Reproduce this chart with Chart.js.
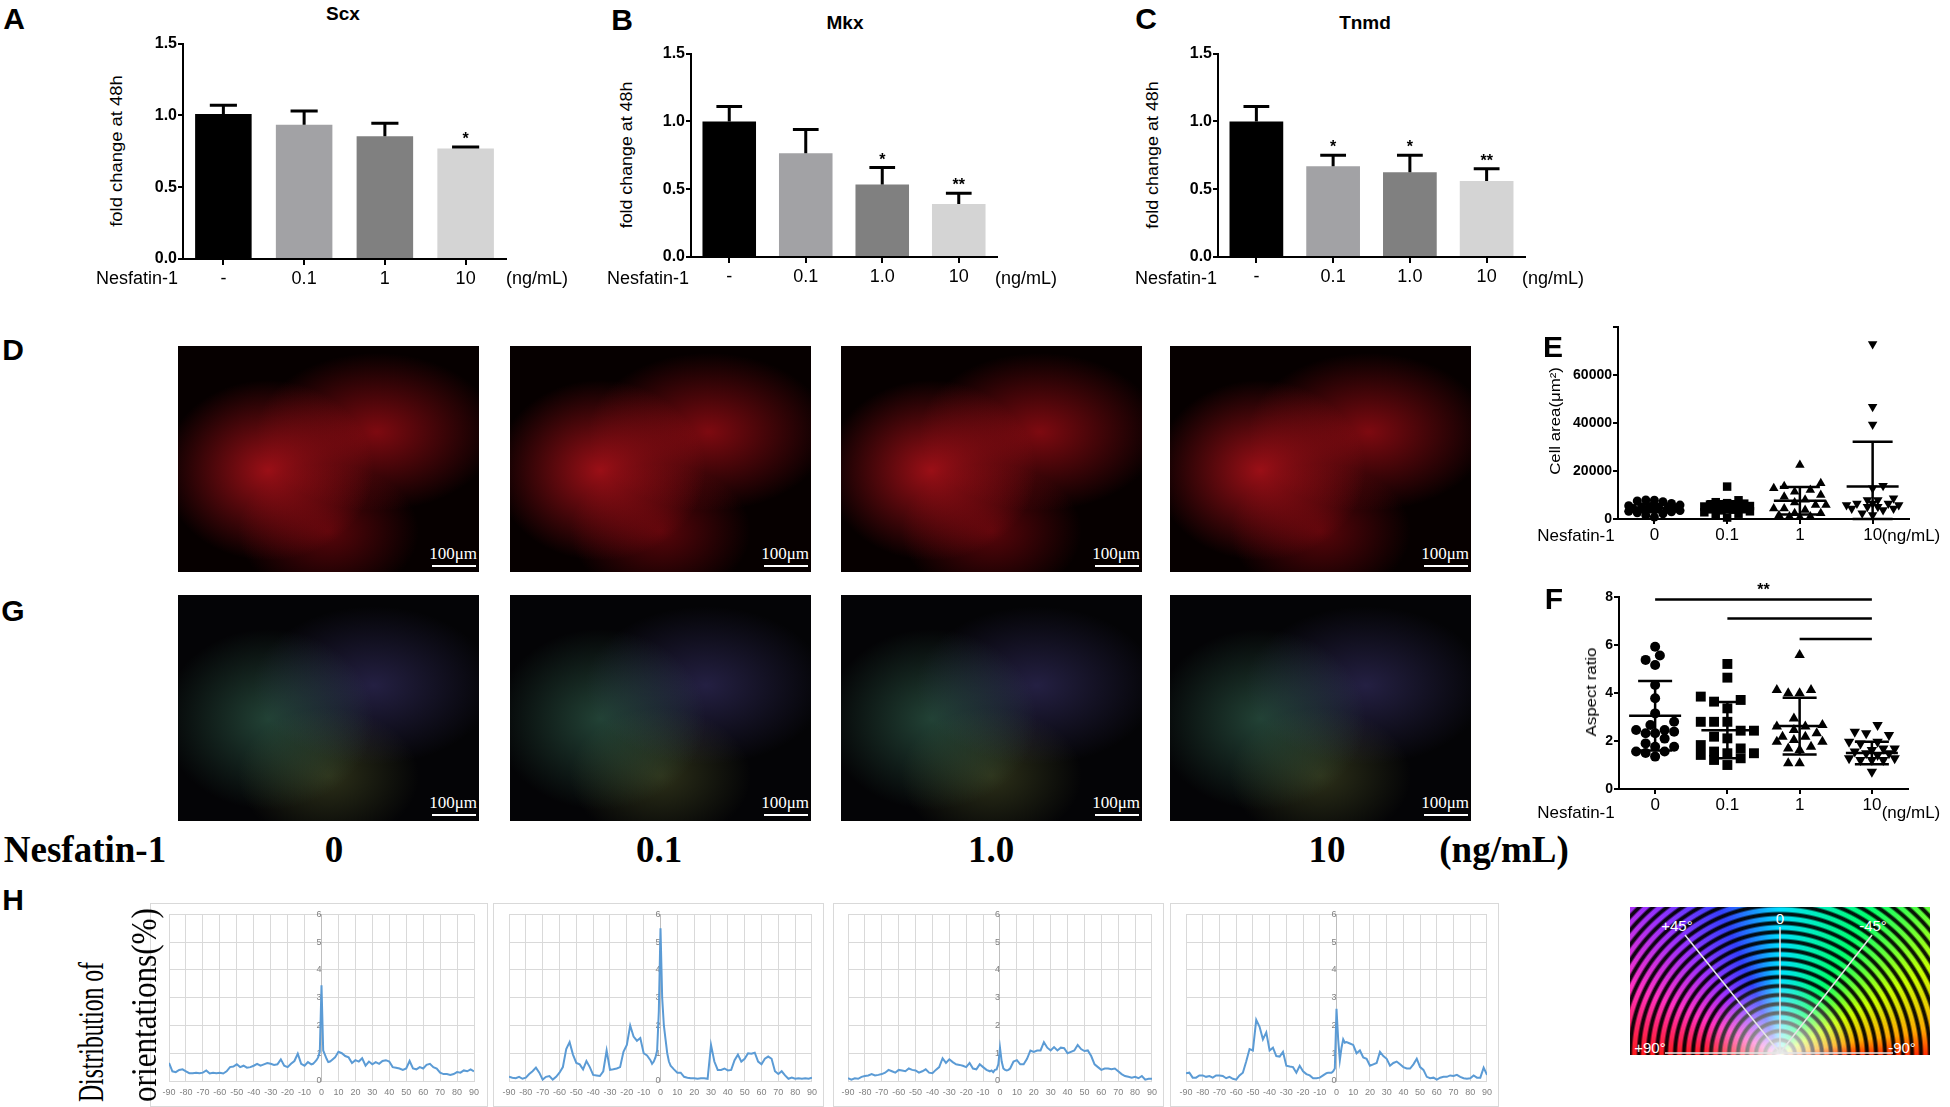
<!DOCTYPE html>
<html>
<head>
<meta charset="utf-8">
<title>Nesfatin-1 tenocyte figure</title>
<script src="https://cdn.jsdelivr.net/npm/chart.js@4.4.1/dist/chart.umd.min.js"></script>
<style>
  html, body { margin: 0; padding: 0; background: #fff; }
  body { position: relative; width: 1950px; height: 1107px; overflow: hidden; font-family: "Liberation Sans", Arial, sans-serif; }
  .box { position: absolute; }
  .t { position: absolute; white-space: nowrap; line-height: 1; color: #000; transform: translate(-50%, -50%); }
  .frame { position: absolute; border: 1px solid #d9d9d9; box-sizing: border-box; }
  .cell { position: absolute; overflow: hidden; }
  .red { background:
      radial-gradient(ellipse 35% 40% at 30% 55%, rgba(205,20,30,.75), rgba(205,20,30,0) 100%),
      radial-gradient(ellipse 40% 35% at 66% 38%, rgba(190,15,25,.65), rgba(190,15,25,0) 100%),
      radial-gradient(ellipse 30% 30% at 50% 82%, rgba(170,10,20,.5), rgba(170,10,20,0) 100%),
      #060000; }
  .tri { background:
      radial-gradient(ellipse 35% 40% at 30% 55%, rgba(70,140,110,.45), rgba(70,140,110,0) 100%),
      radial-gradient(ellipse 40% 35% at 65% 40%, rgba(80,70,150,.42), rgba(80,70,150,0) 100%),
      radial-gradient(ellipse 30% 30% at 50% 80%, rgba(120,130,60,.35), rgba(120,130,60,0) 100%),
      #040406; }
  .sb { position: absolute; color: #fff; font-family: "Liberation Serif", serif; font-size: 17px; line-height: 1; }
  .sbl { position: absolute; height: 2px; background: #fff; }
  .wheel { position: absolute; left: 1630px; top: 907px; width: 300px; height: 148px;
    background:
      radial-gradient(circle at 50% 100%, rgba(255,255,255,.95) 0, rgba(255,255,255,.55) 30px, rgba(255,255,255,0) 75px),
      repeating-radial-gradient(circle at 50% 100%, rgba(0,0,0,0) 0 3px, rgba(0,0,0,.92) 5px 7px, rgba(0,0,0,0) 9px),
      conic-gradient(from 270deg at 50% 100%, #ff1a1a 0deg, #ff30c0 25deg, #9a30ff 48deg, #3340ff 68deg, #00e0ff 90deg, #00ff70 122deg, #c8ff00 150deg, #ffa800 170deg, #ff2a00 180deg, #ff1a1a 360deg); }
</style>
</head>
<body>
<script>
// ---------- data ----------
const barColors = ['#000000', '#a2a2a5', '#808080', '#d4d4d4'];
const doseA = ['-', '0.1', '1', '10'];
const doseBC = ['-', '0.1', '1.0', '10'];

const scxMean = [1.01, 0.935, 0.855, 0.77];
const scxErr = [0.06, 0.095, 0.09, 0.01];
const scxSig = ['', '', '', '*'];

const mkxMean = [1.0, 0.765, 0.535, 0.39];
const mkxErr = [0.11, 0.175, 0.125, 0.08];
const mkxSig = ['', '', '*', '**'];

const tnmdMean = [1.0, 0.67, 0.625, 0.56];
const tnmdErr = [0.11, 0.08, 0.125, 0.09];
const tnmdSig = ['', '*', '*', '**'];

const doseEF = ['0', '0.1', '1', '10'];

// cell area (um^2) per cell
const area0 = [7900, 7500, 7800, 7200, 6500, 5800, 5500, 5200, 5000, 4800, 4500, 4400, 4200, 4000, 3800, 3500, 3200, 3000, 2600, 2200, 1500, 800];
const area01 = [13500, 7800, 7000, 6600, 6400, 6000, 5800, 5600, 5400, 5200, 5000, 4800, 4600, 4400, 4200, 3900, 3600, 3200, 2800, 2200, 1600, 600];
const area1 = [22500, 14900, 13600, 12800, 12100, 11400, 10000, 9300, 8000, 6900, 5800, 5800, 4400, 4400, 3750, 2400, 2400, 1600, 1000, 1000, 700];
const area10 = [72900, 46800, 39400, 13900, 12800, 8600, 7900, 7900, 6500, 6500, 6500, 5800, 5800, 5100, 5100, 4400, 4400, 3750, 2400, 1700];
const areaMean = [4500, 5100, 7600, 13500];
const areaSd = [1700, 2300, 5700, 18700];

// aspect ratio per cell
const ratio0 = [5.93, 5.56, 5.38, 5.17, 4.33, 3.78, 3.15, 2.8, 2.67, 2.46, 2.46, 2.39, 2.32, 2.32, 2.1, 1.9, 1.76, 1.76, 1.56, 1.56, 1.5, 1.35];
const ratio01 = [5.21, 4.64, 3.85, 3.71, 3.64, 3.36, 2.8, 2.8, 2.8, 2.43, 2.43, 2.18, 2.11, 1.83, 1.69, 1.56, 1.49, 1.49, 1.42, 1.28, 1.21, 1.0];
const ratio1 = [5.58, 4.13, 4.13, 3.99, 3.99, 2.94, 2.67, 2.6, 2.6, 2.46, 2.32, 2.18, 2.18, 2.04, 1.97, 1.97, 1.76, 1.69, 1.63, 1.07, 1.07];
const ratio10 = [2.67, 2.39, 2.32, 2.25, 1.97, 1.97, 1.9, 1.69, 1.69, 1.63, 1.56, 1.49, 1.49, 1.42, 1.28, 1.28, 1.21, 1.21, 1.21, 0.72];
const ratioMean = [3.05, 2.45, 2.62, 1.5];
const ratioSd = [1.45, 1.17, 1.18, 0.47];
const ratioBrackets = [[1, 4, 7.9], [2, 4, 7.1], [3, 4, 6.25]]; // from group, to group, level

// orientation distribution (%), degrees
const orientX = [-90, -88, -86, -84, -82, -80, -78, -76, -74, -72, -70, -68, -66, -64, -62, -60, -58, -56, -54, -52, -50, -48, -46, -44, -42, -40, -38, -36, -34, -32, -30, -28, -26, -24, -22, -20, -18, -16, -14, -12, -10, -8, -6,
  -5, -4, -3, -2, -1, 0, 1, 2, 3, 4, 5,
  6, 8, 10, 12, 14, 16, 18, 20, 22, 24, 26, 28, 30, 32, 34, 36, 38, 40, 42, 44, 46, 48, 50, 52, 54, 56, 58, 60, 62, 64, 66, 68, 70, 72, 74, 76, 78, 80, 82, 84, 86, 88, 90];
const orient0 = [0.65, 0.35, 0.32, 0.4, 0.42, 0.35, 0.28, 0.28, 0.3, 0.28, 0.3, 0.38, 0.27, 0.3, 0.28, 0.3, 0.27, 0.35, 0.5, 0.52, 0.6, 0.5, 0.55, 0.48, 0.5, 0.55, 0.62, 0.55, 0.6, 0.65, 0.62, 0.58, 0.6, 0.78, 0.55, 0.5, 0.62, 0.72, 0.98, 0.62, 0.55, 0.68, 0.6,
  0.62, 0.68, 0.75, 0.85, 1.05, 3.45, 1.1, 0.95, 0.8, 0.68, 0.7,
  0.75, 0.85, 1.05, 1.0, 0.9, 0.85, 0.65, 0.75, 0.7, 0.82, 0.55, 0.7, 0.6, 0.68, 0.62, 0.72, 0.75, 0.7, 0.5, 0.48, 0.45, 0.4, 0.45, 0.72, 0.45, 0.42, 0.5, 0.45, 0.58, 0.62, 0.5, 0.45, 0.3, 0.25, 0.25, 0.22, 0.25, 0.32, 0.3, 0.38, 0.35, 0.42, 0.35];
const orient01 = [0.15, 0.12, 0.1, 0.15, 0.08, 0.12, 0.25, 0.35, 0.48, 0.3, 0.05, 0.15, 0.18, 0.05, 0.15, 0.3, 0.5, 1.15, 1.4, 0.95, 0.65, 0.6, 0.42, 0.72, 0.5, 0.22, 0.2, 0.18, 0.35, 1.1, 0.4, 0.42, 0.45, 0.5, 1.05, 1.3, 2.0, 1.6, 1.45, 1.55, 1.0, 0.92, 0.75,
  0.62, 0.7, 0.85, 1.1, 2.5, 5.5, 3.0, 2.0, 1.5, 1.0, 0.7,
  0.55, 0.42, 0.3, 0.3, 0.15, 0.12, 0.1, 0.1, 0.08, 0.1, 0.1, 0.08, 1.3, 0.7, 0.4, 0.4, 0.45, 0.38, 0.4, 0.75, 0.95, 0.7, 0.8, 1.0, 0.98, 1.02, 0.7, 0.6, 0.8, 0.88, 0.8, 0.35, 0.25, 0.35, 0.2, 0.08, 0.12, 0.08, 0.1, 0.08, 0.1, 0.08, 0.12];
const orient1 = [0.1, 0.05, 0.1, 0.08, 0.15, 0.18, 0.2, 0.25, 0.2, 0.22, 0.25, 0.3, 0.4, 0.35, 0.3, 0.4, 0.38, 0.35, 0.45, 0.4, 0.38, 0.3, 0.35, 0.42, 0.3, 0.28, 0.4, 0.5, 0.82, 0.65, 0.78, 0.68, 0.6, 0.58, 0.55, 0.5, 0.65, 0.45, 0.42, 0.6, 0.5, 0.4, 0.35,
  0.38, 0.32, 0.4, 0.42, 0.6, 1.2, 0.7, 0.45, 0.4, 0.38, 0.4,
  0.45, 0.7, 0.75, 0.6, 0.6, 0.8, 1.1, 1.05, 1.1, 1.1, 1.4, 1.2, 1.1, 1.22, 1.1, 1.2, 1.18, 1.0, 1.05, 1.1, 1.3, 1.15, 1.08, 1.1, 0.9, 0.6, 0.5, 0.4, 0.45, 0.45, 0.42, 0.45, 0.35, 0.25, 0.18, 0.15, 0.12, 0.15, 0.1, 0.18, 0.05, 0.08, 0.08];
const orient10 = [0.28, 0.3, 0.12, 0.12, 0.2, 0.2, 0.15, 0.18, 0.12, 0.2, 0.2, 0.18, 0.1, 0.15, 0.08, 0.05, 0.2, 0.3, 0.7, 1.15, 1.1, 2.2, 1.95, 1.5, 1.75, 1.1, 1.2, 0.9, 0.88, 1.05, 0.55, 0.52, 0.5, 0.3, 0.55, 0.35, 0.25, 0.2, 0.1, 0.1, 0.12, 0.2, 0.28,
  0.3, 0.3, 0.3, 0.35, 0.45, 2.6, 1.5, 0.75, 1.2, 1.5, 1.38,
  1.4, 1.35, 1.3, 1.0, 1.1, 0.85, 0.8, 0.55, 0.6, 0.65, 1.05, 0.9, 0.8, 0.55, 0.65, 0.7, 0.6, 0.5, 0.45, 0.45, 0.6, 0.8, 0.5, 0.4, 0.15, 0.1, 0.12, 0.05, 0.12, 0.15, 0.15, 0.2, 0.18, 0.22, 0.15, 0.1, 0.08, 0.1, 0.2, 0.12, 0.12, 0.48, 0.22];

// ---------- helpers ----------
const SANS = '"Liberation Sans", Arial, sans-serif';
const SERIF = '"Liberation Serif", "Times New Roman", serif';
Chart.defaults.font.family = SANS;
Chart.defaults.color = '#000';
Chart.defaults.animation = false;
Chart.defaults.events = [];

function addCanvas(x, y, w, h, cls) {
  const d = document.createElement('div');
  d.className = cls || 'box';
  Object.assign(d.style, { left: x + 'px', top: y + 'px', width: w + 'px', height: h + 'px' });
  const c = document.createElement('canvas');
  d.appendChild(c);
  document.body.appendChild(d);
  return c;
}

function txt(s, cx, cy, css, rot, len) {
  const d = document.createElement('div');
  d.className = 't';
  d.textContent = s;
  d.style.cssText += css;
  d.style.left = cx + 'px';
  d.style.top = cy + 'px';
  document.body.appendChild(d);
  const sx = len ? len / d.offsetWidth : 1;
  d.style.transform = 'translate(-50%,-50%)' + (rot ? ' rotate(-90deg)' : '') + (sx !== 1 ? ' scaleX(' + sx + ')' : '');
}

const errBars = {
  id: 'errBars',
  afterDatasetsDraw(chart, args, o) {
    const ctx = chart.ctx, ys = chart.scales.y;
    const means = chart.data.datasets[0].data;
    ctx.save();
    ctx.strokeStyle = '#000';
    ctx.fillStyle = '#000';
    ctx.lineWidth = 3;
    ctx.font = 'bold 16px ' + SANS;
    ctx.textAlign = 'center';
    chart.getDatasetMeta(0).data.forEach((bar, i) => {
      const top = ys.getPixelForValue(means[i] + o.errs[i]);
      const half = bar.width * 0.24;
      ctx.beginPath();
      ctx.moveTo(bar.x, bar.y);
      ctx.lineTo(bar.x, top);
      ctx.moveTo(bar.x - half, top);
      ctx.lineTo(bar.x + half, top);
      ctx.stroke();
      if (o.sig[i]) ctx.fillText(o.sig[i], bar.x, top - 3);
    });
    ctx.restore();
  }
};

function barChart(x, y, w, h, cats, means, errs, sig) {
  new Chart(addCanvas(x, y, w, h), {
    type: 'bar',
    data: { labels: cats, datasets: [{ data: means, backgroundColor: barColors, borderWidth: 0, barPercentage: 0.7, categoryPercentage: 1 }] },
    options: {
      responsive: true, maintainAspectRatio: false,
      layout: { padding: { top: 10, right: 10, left: 0, bottom: 0 } },
      plugins: { legend: { display: false }, tooltip: { enabled: false }, errBars: { errs, sig } },
      scales: {
        x: {
          grid: { drawOnChartArea: false, offset: false, tickLength: 6, color: '#000', lineWidth: 2 },
          border: { color: '#000', width: 2 },
          ticks: { color: '#000', font: { size: 18 }, padding: 3, maxRotation: 0 },
          afterFit(s) { s.height = 30; }
        },
        y: {
          min: 0, max: 1.5,
          grid: { drawOnChartArea: false, tickLength: 5, color: '#000', lineWidth: 2 },
          border: { color: '#000', width: 2 },
          ticks: { stepSize: 0.5, padding: 1, color: '#000', font: { size: 16, weight: 'bold' }, callback: v => v.toFixed(1) },
          afterFit(s) { s.width = 50; }
        }
      }
    },
    plugins: [errBars]
  });
}

const meanSd = {
  id: 'meanSd',
  afterDatasetsDraw(chart, args, o) {
    const ctx = chart.ctx, xs = chart.scales.x, ys = chart.scales.y;
    ctx.save();
    ctx.strokeStyle = '#000';
    ctx.fillStyle = '#000';
    ctx.lineWidth = 2.5;
    o.mean.forEach((m, i) => {
      const cx = xs.getPixelForValue(i + 1);
      const ym = ys.getPixelForValue(m);
      const yt = ys.getPixelForValue(m + o.sd[i]);
      const yb = ys.getPixelForValue(Math.max(m - o.sd[i], ys.min));
      ctx.beginPath();
      ctx.moveTo(cx - o.meanHalf, ym); ctx.lineTo(cx + o.meanHalf, ym);
      ctx.moveTo(cx, yt); ctx.lineTo(cx, yb);
      ctx.moveTo(cx - o.capHalf, yt); ctx.lineTo(cx + o.capHalf, yt);
      ctx.moveTo(cx - o.capHalf, yb); ctx.lineTo(cx + o.capHalf, yb);
      ctx.stroke();
    });
    (o.brackets || []).forEach(([a, b, lv]) => {
      const yy = ys.getPixelForValue(lv);
      ctx.beginPath();
      ctx.moveTo(xs.getPixelForValue(a), yy);
      ctx.lineTo(xs.getPixelForValue(b), yy);
      ctx.stroke();
    });
    if (o.star && o.brackets) {
      const [a, b, lv] = o.brackets[0];
      ctx.font = 'bold 16px ' + SANS;
      ctx.textAlign = 'center';
      ctx.fillText(o.star, (xs.getPixelForValue(a) + xs.getPixelForValue(b)) / 2, ys.getPixelForValue(lv) - 4);
    }
    ctx.restore();
  }
};

// simple beeswarm: spreads equal values sideways so markers do not overlap
function swarm(chart, values, center, r) {
  const xs = chart.scales.x, ys = chart.scales.y;
  const unit = xs.getPixelForValue(center + 1) - xs.getPixelForValue(center);
  const d = r * 1.9, maxOff = 28;
  const placed = [];
  return values.slice().sort((a, b) => a - b).map((v, n) => {
    const py = ys.getPixelForValue(v);
    let best = 0, bestGap = -1;
    outer:
    for (let k = 0; k * d / 2 <= maxOff; k++) {
      const step = k * d / 2;
      const cands = k === 0 ? [0] : (n % 2 ? [-step, step] : [step, -step]);
      for (const off of cands) {
        let gap = Infinity;
        for (const p of placed) gap = Math.min(gap, Math.hypot(p[0] - off, p[1] - py));
        if (gap >= d) { best = off; break outer; }
        if (gap > bestGap) { bestGap = gap; best = off; }
      }
    }
    placed.push([best, py]);
    return { x: center + best / unit, y: v };
  });
}

function dotChart(x, y, w, h, padTop, groups, styles, radii, yOpt, plug) {
  const chart = new Chart(addCanvas(x, y, w, h), {
    type: 'scatter',
    data: {
      datasets: groups.map((g, i) => ({
        data: [], pointStyle: styles[i], pointRotation: styles[i] === 'triangle' && i === 3 ? 180 : 0,
        pointRadius: radii[i], backgroundColor: '#000', borderColor: '#000', borderWidth: 0, clip: false
      }))
    },
    options: {
      responsive: true, maintainAspectRatio: false,
      layout: { padding: { top: padTop, right: 10, left: 0, bottom: 0 } },
      plugins: { legend: { display: false }, tooltip: { enabled: false }, meanSd: plug },
      scales: {
        x: {
          type: 'linear', min: 0.5, max: 4.5,
          afterBuildTicks(s) { s.ticks = [1, 2, 3, 4].map(v => ({ value: v })); },
          grid: { drawOnChartArea: false, tickLength: 5, color: '#000', lineWidth: 2 },
          border: { color: '#000', width: 2 },
          ticks: { color: '#000', font: { size: 17 }, padding: 1, maxRotation: 0, callback: v => doseEF[v - 1] },
          afterFit(s) { s.height = 30; }
        },
        y: Object.assign({
          grid: { drawOnChartArea: false, tickLength: 5, color: '#000', lineWidth: 2 },
          border: { color: '#000', width: 2 },
          afterFit(s) { s.width = 60; }
        }, yOpt)
      }
    },
    plugins: [meanSd]
  });
  groups.forEach((g, i) => { chart.data.datasets[i].data = swarm(chart, g, i + 1, radii[i]); });
  chart.update('none');
}

function orientChart(x, y, w, h, pad, values) {
  new Chart(addCanvas(x, y, w, h, 'frame'), {
    type: 'line',
    data: { datasets: [{ data: orientX.map((d, i) => ({ x: d, y: values[i] })), borderColor: '#5b9bd5', borderWidth: 2, pointRadius: 0, tension: 0 }] },
    options: {
      responsive: true, maintainAspectRatio: false,
      layout: { padding: { top: pad[0], right: pad[1], left: pad[2], bottom: 0 } },
      plugins: { legend: { display: false }, tooltip: { enabled: false } },
      scales: {
        x: {
          type: 'linear', min: -90, max: 90,
          grid: { color: '#d9d9d9', drawTicks: false },
          border: { color: '#d9d9d9' },
          ticks: { stepSize: 10, autoSkip: false, maxRotation: 0, color: '#808080', font: { size: 9 }, padding: 6 },
          afterFit(s) { s.height = 25; }
        },
        y: {
          type: 'linear', position: { x: 0 }, min: 0, max: 6,
          grid: { color: '#d9d9d9', drawTicks: false },
          border: { color: '#bfbfbf' },
          ticks: { stepSize: 1, color: '#808080', font: { size: 9 }, padding: 5 }
        }
      }
    }
  });
}

// ---------- A, B, C ----------
barChart(133, 33, 383, 256, doseA, scxMean, scxErr, scxSig);
barChart(641, 43, 366, 244, doseBC, mkxMean, mkxErr, mkxSig);
barChart(1168, 43, 367, 244, doseBC, tnmdMean, tnmdErr, tnmdSig);

// ---------- E, F ----------
const boldTicks = { color: '#000', font: { size: 14, weight: 'bold' }, padding: 1 };
dotChart(1558, 317, 361, 232, 10, [area0, area01, area1, area10], ['circle', 'rect', 'triangle', 'triangle'], [4.5, 6, 5.5, 5.5],
  { min: 0, max: 80000, ticks: Object.assign({ stepSize: 20000, callback: v => (v === 80000 ? '' : v) }, boldTicks) },
  { mean: areaMean, sd: areaSd, meanHalf: 26, capHalf: 20 });
dotChart(1559, 567, 359, 252, 30, [ratio0, ratio01, ratio1, ratio10], ['circle', 'rect', 'triangle', 'triangle'], [5, 7, 6, 6],
  { min: 0, max: 8, ticks: Object.assign({ stepSize: 2 }, boldTicks) },
  { mean: ratioMean, sd: ratioSd, meanHalf: 26, capHalf: 17, brackets: ratioBrackets, star: '**' });

// ---------- H ----------
orientChart(150, 903, 338, 204, [8, 13, 18], orient0);
orientChart(493, 903, 331, 204, [8, 9, 15], orient01);
orientChart(833, 903, 331, 204, [8, 11, 14], orient1);
orientChart(1170, 903, 329, 204, [8, 6, 15], orient10);

// ---------- D, G micrograph panels ----------
[178, 510, 841, 1170].forEach(left => {
  [[346, 'red'], [595, 'tri']].forEach(([top, cls]) => {
    const c = document.createElement('div');
    c.className = 'cell ' + cls;
    Object.assign(c.style, { left: left + 'px', top: top + 'px', width: '301px', height: '226px' });
    document.body.appendChild(c);
    const s = document.createElement('div');
    s.className = 'sb';
    s.textContent = '100μm';
    Object.assign(s.style, { right: (1950 - left - 299) + 'px', top: (top + 226 - 27) + 'px' });
    document.body.appendChild(s);
    const l = document.createElement('div');
    l.className = 'sbl';
    Object.assign(l.style, { left: (left + 301 - 47) + 'px', top: (top + 226 - 7) + 'px', width: '44px' });
    document.body.appendChild(l);
  });
});

// ---------- colour-coded orientation key ----------
const wheel = document.createElement('div');
wheel.className = 'wheel';
document.body.appendChild(wheel);
document.body.insertAdjacentHTML('beforeend',
  '<svg style="position:absolute;left:1630px;top:907px" width="300" height="148">' +
  '<g stroke="#e6e6e6" stroke-width="1.5">' +
  '<line x1="150" y1="146" x2="55" y2="28"/><line x1="150" y1="146" x2="150" y2="20"/>' +
  '<line x1="150" y1="146" x2="242" y2="28"/><line x1="35" y1="146" x2="263" y2="146"/></g>' +
  '<g fill="#fff" font-family="Liberation Sans, Arial, sans-serif" font-size="15" text-anchor="middle">' +
  '<text x="150" y="17">0</text><text x="47" y="24">+45°</text><text x="243" y="24">-45°</text>' +
  '<text x="20" y="146">+90°</text><text x="272" y="146">-90°</text></g></svg>');

// ---------- text ----------
const P = 'font-weight:bold;font-size:30px;';
txt('A', 14, 19, P); txt('B', 622, 20, P); txt('C', 1146, 19, P);
txt('D', 13, 350, P); txt('G', 13, 611, P); txt('E', 1553, 347, P);
txt('F', 1554, 599, P); txt('H', 13, 900, P);

const TT = 'font-weight:bold;font-size:19px;';
txt('Scx', 343, 13, TT); txt('Mkx', 845, 22, TT); txt('Tnmd', 1365, 22, TT);

const YT = 'font-size:16px;';
txt('fold change at 48h', 117, 151, YT, true, 152);
txt('fold change at 48h', 627, 155, YT, true, 147);
txt('fold change at 48h', 1153, 155, YT, true, 148);

const XL = 'font-size:18px;';
txt('Nesfatin-1', 137, 278, XL); txt('(ng/mL)', 537, 278, XL);
txt('Nesfatin-1', 648, 278, XL); txt('(ng/mL)', 1026, 278, XL);
txt('Nesfatin-1', 1176, 278, XL); txt('(ng/mL)', 1553, 278, XL);

const XS = 'font-size:17px;';
txt('Cell area(μm²)', 1555, 421, 'font-size:14px;', true, 108);
txt('Aspect ratio', 1591, 692, 'font-size:14px;', true, 89);
txt('Nesfatin-1', 1576, 535, XS); txt('(ng/mL)', 1911, 535, XS);
txt('Nesfatin-1', 1576, 812, XS); txt('(ng/mL)', 1911, 812, XS);

const RW = 'font-family:' + SERIF + ';font-weight:bold;font-size:37px;';
txt('Nesfatin-1', 85, 849, RW); txt('0', 334, 849, RW); txt('0.1', 659, 849, RW);
txt('1.0', 991, 849, RW); txt('10', 1327, 849, RW); txt('(ng/mL)', 1504, 849, RW);

const HT = 'font-family:' + SERIF + ';font-size:36px;';
txt('Distribution of', 91, 1032, HT, true, 140);
txt('orientations(%)', 144, 1005, HT, true, 194);
</script>
</body>
</html>
